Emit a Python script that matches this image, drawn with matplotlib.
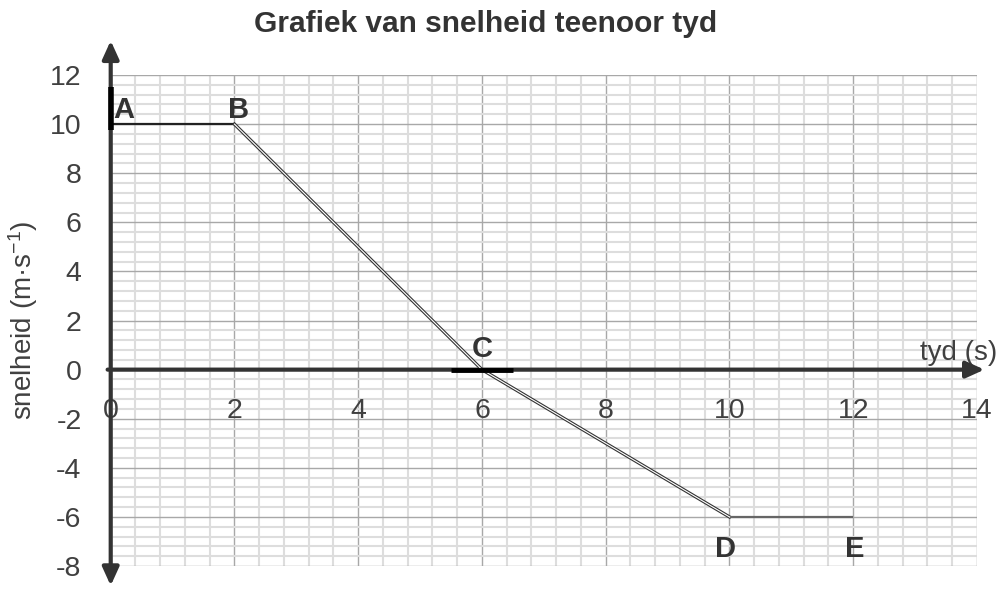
import numpy as np
import matplotlib
matplotlib.use("Agg")
import matplotlib.pyplot as plt
from matplotlib.patches import FancyArrowPatch

# waardes uit die grafiek
tyd = [0, 2, 6, 10, 12]
snelheid = [10, 10, 0, -6, -6]
punte = ["A", "B", "C", "D", "E"]
x_ticks = [0, 2, 4, 6, 8, 10, 12, 14]
y_ticks = [12, 10, 8, 6, 4, 2, 0, -2, -4, -6, -8]

# label offsets (dx, dy, ha) - styling only
label_offsets = [(0.04, 0.25, "left"), (0.06, 0.25, "center"), (0.0, 0.53, "center"),
                 (-0.07, -1.63, "center"), (0.02, -1.63, "center")]

plt.rcParams['font.family'] = ['Liberation Sans', 'DejaVu Sans']
plt.rcParams['mathtext.fontset'] = 'custom'
plt.rcParams['mathtext.rm'] = 'Liberation Sans'
plt.rcParams['mathtext.it'] = 'Liberation Sans:italic'
plt.rcParams['axes.unicode_minus'] = False

TXT = '#404040'
AX = '#333333'

fig = plt.figure(figsize=(10.01, 5.89), dpi=100)
ax = fig.add_axes([0.1106, 0.039, 0.8654, 0.8336])
ax.set_xlim(0, 14)
ax.set_ylim(-8, 12)

ax.set_xticks(x_ticks)
ax.set_xticks(np.arange(0, 14.01, 0.4), minor=True)
ax.set_yticks(y_ticks)
ax.set_yticks(np.arange(-8, 12.01, 0.4), minor=True)
ax.set_axisbelow(True)
ax.grid(True, which='minor', color='#dddddd', lw=1.5)
ax.grid(True, which='major', color='#a8a8a8', lw=1.0)
ax.tick_params(which='both', length=0)
ax.tick_params(axis='y', labelsize=20.5, labelcolor=TXT, pad=21)
ax.tick_params(axis='x', labelbottom=False)
for s in ax.spines.values():
    s.set_visible(False)

# x tick labels sit under the zero line
for xt in x_ticks:
    ax.text(xt, -1.96, str(xt), ha='center', va='baseline', fontsize=20.5, color=TXT)

# axes with arrows
ya = FancyArrowPatch((0, -8.8), (0, 13.4), arrowstyle='<|-|>,head_length=0.55,head_width=0.25',
                     mutation_scale=20, lw=3, color=AX, shrinkA=0, shrinkB=0, clip_on=False, zorder=5)
xa = FancyArrowPatch((-0.05, 0), (14.12, 0), arrowstyle='-|>,head_length=0.55,head_width=0.25',
                     mutation_scale=20, lw=3, color=AX, shrinkA=0, shrinkB=0, clip_on=False, zorder=5)
ax.add_patch(ya)
ax.add_patch(xa)

# the v-t graph
ax.plot(tyd[:2], snelheid[:2], color='#222222', lw=1.6, zorder=6, solid_capstyle='butt')
ax.plot(tyd[1:4], snelheid[1:4], color='#333333', lw=2.4, zorder=6)
ax.plot(tyd[1:4], snelheid[1:4], color='white', lw=0.8, zorder=7)
ax.plot(tyd[3:], snelheid[3:], color='#666666', lw=1.6, zorder=6, solid_capstyle='butt')

# thick markers at A and C
ax.plot([tyd[0], tyd[0]], [snelheid[0] - 0.25, snelheid[0] + 1.5], color='black', lw=4,
        solid_capstyle='butt', zorder=8, clip_on=False)
ax.plot([tyd[2] - 0.5, tyd[2] + 0.5], [snelheid[2], snelheid[2]], color='black', lw=3.5,
        solid_capstyle='butt', zorder=8)

for p, t, v, (dx, dy, ha) in zip(punte, tyd, snelheid, label_offsets):
    ax.text(t + dx, v + dy, p, ha=ha, va='baseline', fontsize=21, fontweight='bold',
            color=AX, zorder=9)

ax.text(14.33, 0.41, 'tyd (s)', ha='right', va='baseline', fontsize=20, color=TXT)
ax.set_ylabel('snelheid (m·s$^{\\mathregular{-1}}$)', fontsize=20, color=TXT)
ax.yaxis.set_label_coords(-0.0817, 0.5)

fig.text(0.485, 1 - 32 / 589, 'Grafiek van snelheid teenoor tyd', ha='center', va='baseline',
         fontsize=21.5, fontweight='bold', color=AX)

fig.savefig('out.png', dpi=100)
